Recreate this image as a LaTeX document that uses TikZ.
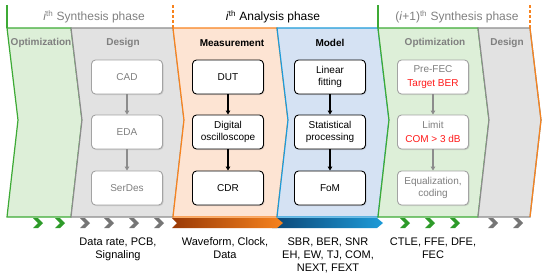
\documentclass[tikz,border=0pt]{standalone}
\usepackage{fontspec}
\setmainfont{Liberation Sans}
\usetikzlibrary{arrows.meta, shadows}

\definecolor{grnline}{HTML}{3DAA35}
\definecolor{grnfill}{HTML}{DDEFD8}
\definecolor{grnchev}{HTML}{2E9B2A}
\definecolor{gryline}{HTML}{8C8C8C}
\definecolor{gryfill}{HTML}{E2E2E2}
\definecolor{grychev}{HTML}{767676}
\definecolor{orgline}{HTML}{F7831E}
\definecolor{orgfill}{HTML}{FDE4D3}
\definecolor{orgdark}{HTML}{9A3A06}
\definecolor{bluline}{HTML}{1D9BD8}
\definecolor{blufill}{HTML}{D5E2F3}
\definecolor{bludark}{HTML}{0B4676}
\definecolor{txtgray}{HTML}{7F7F7F}
\definecolor{comred}{HTML}{FF1A1A}

\tikzset{
  phase/.style={line width=1.2pt, line join=miter},
  head/.style={font=\fontsize{12}{14}\selectfont},
  coltitle/.style={font=\bfseries\fontsize{10}{12}\selectfont},
  stepbox/.style={draw, rounded corners=4pt, fill=white, line width=0.9pt,
    minimum width=71pt, minimum height=34pt, align=center,
    font=\fontsize{10}{11.5}\selectfont,
    drop shadow={shadow xshift=1pt, shadow yshift=-1pt, opacity=0.25}},
  graybox/.style={stepbox, draw=gryline!80, text=txtgray},
  blackbox/.style={stepbox, draw=black, text=black},
  grayarrow/.style={->, draw=gryline, line width=1.4pt},
  blackarrow/.style={->, draw=black, line width=1.1pt},
  outtext/.style={anchor=north, align=center, font=\fontsize{11}{13}\selectfont}
}

\begin{document}
\begin{tikzpicture}[x=1pt, y=-1pt, >={Triangle[length=4pt, width=4.5pt]}]
    \useasboundingbox (0,0) rectangle (550,276);

    % phase columns
    \draw[phase, draw=grnline, fill=grnfill] (7,28) -- (71,28) -- (82,120) -- (71,217) -- (7,217) -- (18,120) -- cycle;
    \draw[phase, draw=gryline, fill=gryfill] (71,28) -- (173,28) -- (184,120) -- (173,217) -- (71,217) -- (82,120) -- cycle;
    \draw[phase, draw=orgline, fill=orgfill] (173,28) -- (277,28) -- (288,120) -- (277,217) -- (173,217) -- (184,120) -- cycle;
    \draw[phase, draw=bluline, fill=blufill] (277,28) -- (378,28) -- (389,120) -- (378,217) -- (277,217) -- (288,120) -- cycle;
    \draw[phase, draw=grnline, fill=grnfill] (378,28) -- (478,28) -- (489,120) -- (478,217) -- (378,217) -- (389,120) -- cycle;
    \draw[phase, draw=gryline, fill=gryfill] (478,28) -- (530,28) -- (541,120) -- (530,217) -- (478,217) -- (489,120) -- cycle;
    \draw[phase, draw=orgline] (530,28) -- (541,120) -- (530,217);

    % header separators
    \draw[phase, grnline] (7,5) -- (7,28);
    \draw[phase, orgline, dash pattern=on 3pt off 2pt] (173,5) -- (173,28);
    \draw[phase, grnline] (378,5) -- (378,28);
    \draw[phase, orgline, dash pattern=on 3pt off 2pt] (530,5) -- (530,28);

    \node[head, text=txtgray] (synth) at (94,17) {\textit{i}\textsuperscript{th} Synthesis phase};
    \node[head, text=black] (analysis) at (273,17) {\textit{i}\textsuperscript{th} Analysis phase};
    \node[head, text=txtgray] (nextsynth) at (457,17) {(\textit{i}+1)\textsuperscript{th} Synthesis phase};

    % column titles
    \node[coltitle, text=txtgray] (optA) at (41,43) {Optimization};
    \node[coltitle, text=txtgray] (desA) at (123,43) {Design};
    \node[coltitle, text=black] (meas) at (232,43) {Measurement};
    \node[coltitle, text=black] (model) at (330,43) {Model};
    \node[coltitle, text=txtgray] (optB) at (435,43) {Optimization};
    \node[coltitle, text=txtgray] (desB) at (507,43) {Design};

    % design
    \node[graybox] (cad) at (127,77) {CAD};
    \node[graybox] (eda) at (127,132) {EDA};
    \node[graybox] (serdes) at (127,188) {SerDes};
    \draw[grayarrow] (cad) -- (eda);
    \draw[grayarrow] (eda) -- (serdes);

    % measurement
    \node[blackbox] (dut) at (228,77) {DUT};
    \node[blackbox] (scope) at (228,132) {Digital\\oscilloscope};
    \node[blackbox] (cdr) at (228,188) {CDR};
    \draw[blackarrow] (dut) -- (scope);
    \draw[blackarrow] (scope) -- (cdr);

    % model
    \node[blackbox] (fit) at (330,77) {Linear\\fitting};
    \node[blackbox] (stat) at (330,132) {Statistical\\processing};
    \node[blackbox] (fom) at (330,188) {FoM};
    \draw[blackarrow] (fit) -- (stat);
    \draw[blackarrow] (stat) -- (fom);

    % optimization
    \node[graybox] (prefec) at (433,77) {Pre-FEC\\[2pt]\textcolor{comred}{Target BER}};
    \node[graybox] (limit) at (433,132) {Limit\\[2pt]\textcolor{comred}{COM > 3 dB}};
    \node[graybox] (equal) at (433,188) {Equalization,\\coding};
    \draw[grayarrow] (prefec) -- (limit);
    \draw[grayarrow] (limit) -- (equal);

    % flow markers
    \foreach \cx in {33,55,400,425,450}
        \fill[grnchev] (\cx,218) -- ++(5,0) -- ++(5,5) -- ++(-5,5) -- ++(-5,0) -- ++(5,-5) -- cycle;
    \foreach \cx in {80,104,129,154,488,513}
        \fill[grychev] (\cx,218) -- ++(5,0) -- ++(5,5) -- ++(-5,5) -- ++(-5,0) -- ++(5,-5) -- cycle;
    \shade[left color=bludark, right color=bluline] (272,218) -- (377,218) -- (383,223) -- (377,228) -- (272,228) -- cycle;
    \shade[left color=orgdark, right color=orgline] (172,218) -- (277,218) -- (283,223) -- (277,228) -- (172,228) -- (177,223) -- cycle;

    % outputs
    \node[outtext] (outdes) at (118,234) {Data rate, PCB,\\Signaling};
    \node[outtext] (outmeas) at (225,234) {Waveform, Clock,\\Data};
    \node[outtext] (outmodel) at (328,234) {SBR, BER, SNR\\EH, EW, TJ, COM,\\NEXT, FEXT};
    \node[outtext] (outopt) at (433,234) {CTLE, FFE, DFE,\\FEC};
\end{tikzpicture}
\end{document}
